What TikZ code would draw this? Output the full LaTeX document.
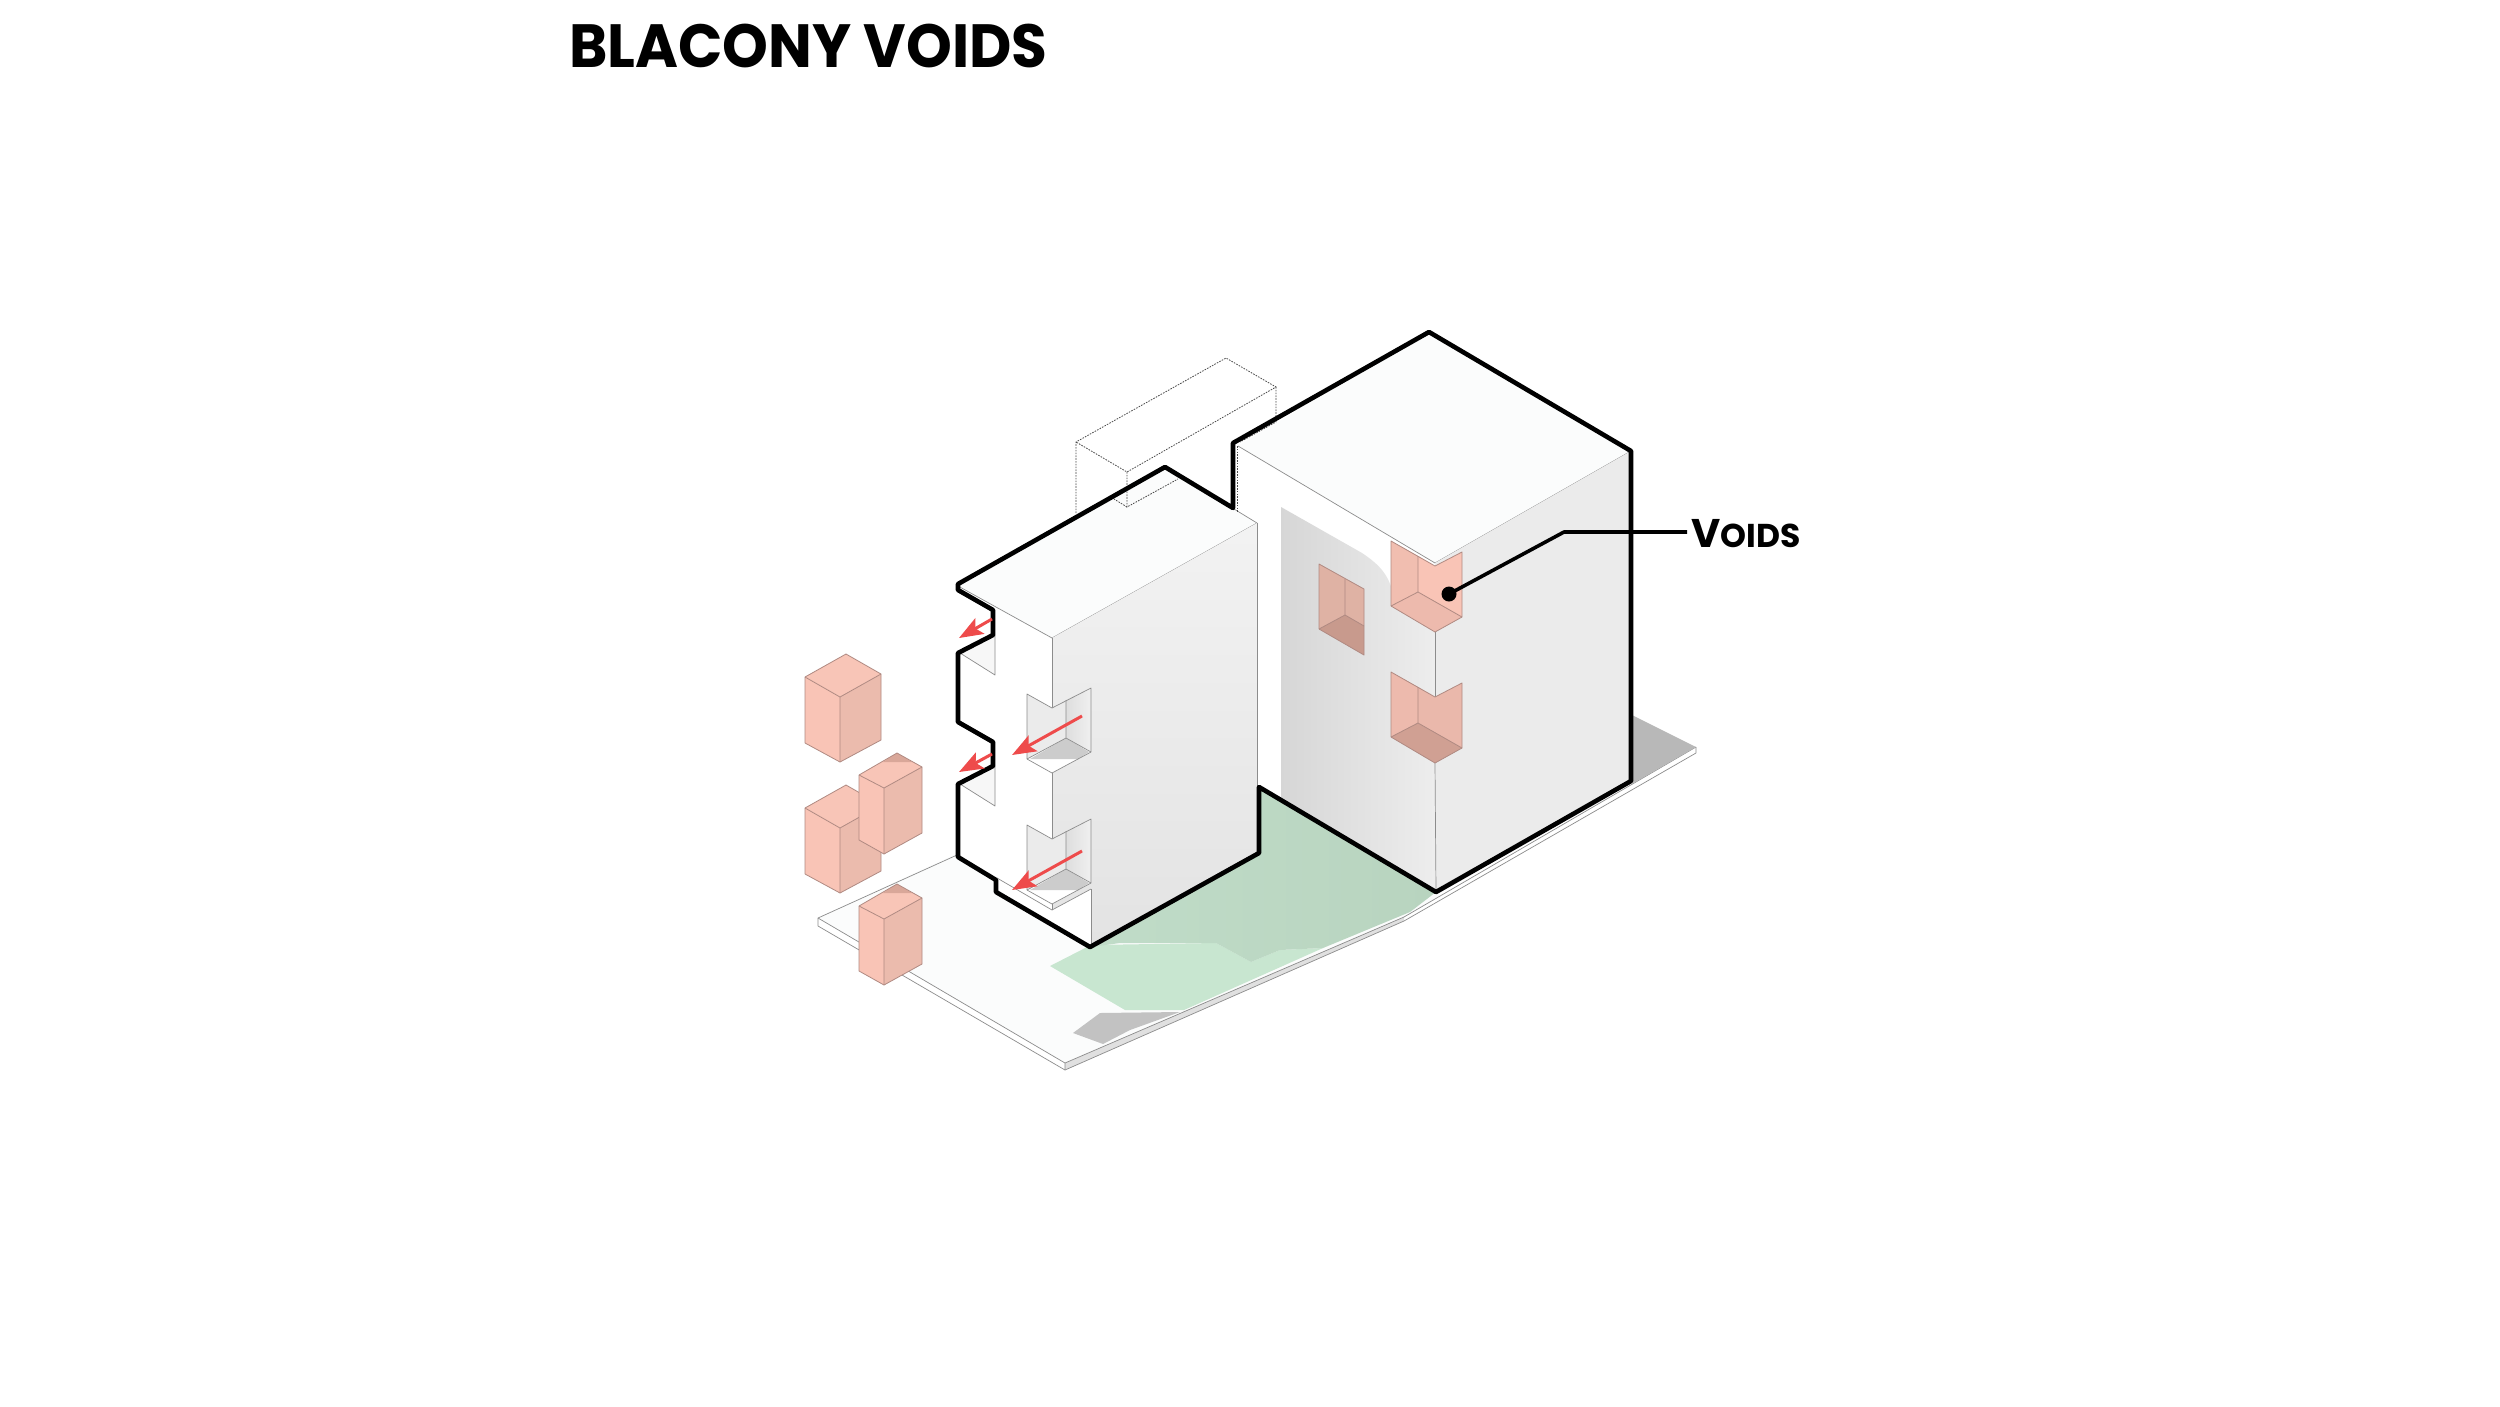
\documentclass[tikz,border=0pt]{standalone}
\usepackage{fontspec}
\setmainfont{Poppins}
\usetikzlibrary{arrows.meta}
\definecolor{arrowred}{HTML}{EE4B4B}
\definecolor{boxline}{HTML}{B08A82}
\definecolor{boxL}{HTML}{F9C4B6}
\definecolor{boxR}{HTML}{EBBBAD}
\definecolor{boxT}{HTML}{F8C5B7}
\definecolor{boxD}{HTML}{D9A799}
\definecolor{greenD}{HTML}{C0DCC8}
\definecolor{greenE}{HTML}{B8D4BF}
\definecolor{greenL}{HTML}{C8E6D0}
\definecolor{sitetop}{HTML}{FBFCFC}
\tikzset{
  thin line/.style={draw=black!45,line width=0.7pt,line join=round},
  outline/.style={draw=black,line width=4.6pt,line join=round},
  redarrow/.style={draw=arrowred,line width=3pt,-{Stealth[length=24pt,width=18pt,inset=5pt]}},
  boxedge/.style={draw=boxline,line width=0.8pt,line join=round},
  dotline/.style={draw=black!70,line width=0.8pt,dash pattern=on 1.6pt off 1.2pt},
}
% apex, right, centre, left, bottom centre, bottom left, bottom right, extra
\newcommand{\ibox}[8]{%
  \fill[boxL] (#4) -- (#3) -- (#5) -- (#6) -- cycle;
  \fill[boxR] (#3) -- (#2) -- (#7) -- (#5) -- cycle;
  \fill[boxT] (#1) -- (#2) -- (#3) -- (#4) -- cycle;
  #8
  \draw[boxedge] (#1) -- (#2) -- (#7) -- (#5) -- (#6) -- (#4) -- cycle;
  \draw[boxedge] (#4) -- (#3) -- (#2) (#3) -- (#5);
}
\newcommand{\greyvoid}[1]{%
  \begin{scope}[shift={(0,#1)}]
  \fill[white] (1027,694) -- (1052,708) -- (1091,688) -- (1091,752) -- (1052,773) -- (1027,759) -- cycle;
  \fill[black!8] (1027,694) -- (1052,708) -- (1066,700) -- (1066,738) -- (1027,759) -- cycle;
  \shade[left color=black!13,right color=black!6] (1066,700) -- (1091,688) -- (1091,752) -- (1066,738) -- cycle;
  \fill[black!20] (1030,759) -- (1066,738) -- (1089,752) -- (1078,759) -- cycle;
  \draw[thin line] (1027,759) -- (1027,694) -- (1052,708) -- (1091,688) -- (1091,752) -- (1052,773) -- (1027,759);
  \draw[thin line] (1066,700) -- (1066,738) (1027,759) -- (1066,738) -- (1091,752);
  \end{scope}
}
\newcommand{\pinkvoid}[4]{%
  \begin{scope}[shift={(0,#1)}]
  \fill[#2] (1391,541) -- (1418,556) -- (1418,592) -- (1391,606) -- cycle;
  \fill[#3] (1418,556) -- (1435,566) -- (1462,552) -- (1462,617) -- (1418,592) -- cycle;
  \fill[#4] (1391,606) -- (1418,592) -- (1462,617) -- (1435,632) -- cycle;
  \draw[boxedge] (1391,606) -- (1391,541) -- (1435,566) -- (1462,552) -- (1462,617) -- (1435,632) -- cycle;
  \draw[boxedge] (1418,556) -- (1418,592) (1391,606) -- (1418,592) -- (1462,617);
  \end{scope}
}
\begin{document}
\begin{tikzpicture}[x=1pt,y=-1pt]
\useasboundingbox (0,0) rectangle (2500,1406);
\fill[white] (0,0) rectangle (2500,1406);

% ---- title
\node[anchor=west,inner sep=0pt,font=\bfseries\fontsize{61}{64}\selectfont] (title) at (569,46) {\scalebox{0.955}[1]{BLACONY VOIDS}};

% ---- site slab
\fill[sitetop] (818,918) -- (958,853) -- (1250,790) -- (1440,896) -- (1404,917) -- (1065,1063) -- cycle;
\fill[black!12] (1065,1063) -- (1065,1070) -- (1404,921) -- (1404,917) -- cycle;
\draw[thin line] (957,855) -- (818,918) -- (818,926) -- (1065,1070) -- (1404,921) -- (1696,753) -- (1696,747);
\draw[thin line] (818,918) -- (1065,1063) -- (1065,1070);
\draw[thin line] (1065,1063) -- (1404,917) -- (1696,747);

% ---- green and shadows
\fill[greenL] (1050,966) -- (1091,945) -- (1216,943) -- (1251,962) -- (1280,950) -- (1323,948) -- (1184,1010) -- (1125,1010) -- cycle;
\shade[left color=greenD,right color=greenE] (1091,947) -- (1259,853) -- (1259,787) -- (1436,892) -- (1410,912) -- (1323,948) -- (1280,950) -- (1251,962) -- (1216,943) -- (1120,943) -- cycle;
\fill[black!24] (1073,1033) -- (1100,1013) -- (1180,1012) -- (1130,1030) -- (1103,1044) -- cycle;
\fill[black!28] (1632,715) -- (1696,747) -- (1632,784) -- cycle;

% ---- outer boxes
\ibox{846,654}{881,674}{840,697}{805,677}{840,762}{805,743}{881,740}{}
\ibox{846,785}{881,805}{840,828}{805,808}{840,893}{805,874}{881,871}{}
\ibox{897,753}{922,767}{884,788}{859,775}{884,854}{859,840}{922,833}{\fill[boxD] (897,753) -- (912,762) -- (883,762) -- cycle;}
\ibox{897,884}{922,898}{884,919}{859,906}{884,985}{859,971}{922,964}{\fill[boxD] (897,884) -- (912,893) -- (883,893) -- cycle;}

% ---- building mass
\fill[white] (958,584) -- (1165,467) -- (1233,508) -- (1233,443) -- (1429,332) -- (1631,451) -- (1631,781) -- (1436,892) -- (1259,787) -- (1259,853) -- (1090,947) -- (996,892) -- (996,880) -- (958,857) -- (958,784) -- (993,766) -- (993,742) -- (958,722) -- (958,653) -- (993,635) -- (993,610) -- (958,590) -- cycle;

% ---- roofs
\fill[sitetop] (958,586) -- (1165,467) -- (1257,523) -- (1052,638) -- cycle;
\fill[sitetop] (1238,446) -- (1429,332) -- (1631,451) -- (1435,563) -- cycle;
\draw[thin line] (958,586) -- (1052,638) -- (1257,523) -- (1165,467);
\draw[thin line] (1238,446) -- (1435,563) -- (1631,451);

% ---- left building faces
\shade[top color=black!5,bottom color=black!11] (1052,638) -- (1257,523) -- (1257,853) -- (1091,947) -- (1091,889) -- (1052,910) -- cycle;
\draw[thin line] (1052,638) -- (1052,708);
\draw[thin line] (1052,773) -- (1052,839);
\draw[thin line] (1257,523) -- (1257,853);
\draw[thin line] (1091,889) -- (1091,947);
\fill[black!3] (960,653) -- (995,635) -- (995,675) -- cycle;
\fill[black!3] (960,784) -- (995,766) -- (995,806) -- cycle;
\draw[thin line] (960,653) -- (995,675) -- (995,635);
\draw[thin line] (960,784) -- (995,806) -- (995,766);
\greyvoid{0}
\greyvoid{131}
\draw[thin line] (997,878) -- (1052,910) -- (1091,889);
\draw[thin line] (1052,904) -- (1052,910);

% ---- right building faces
\shade[left color=black!16,right color=black!7] (1281,507) -- (1362,553) .. controls (1380,565) and (1388,575) .. (1392,590) -- (1435,632) -- (1436,892) -- (1281,800) -- cycle;
\fill[black!8] (1435,563) -- (1631,451) -- (1631,781) -- (1436,892) -- cycle;
\draw[thin line] (1435,632) -- (1435,697);
\draw[thin line] (1435,763) -- (1436,892);
\draw[thin line] (1630,452) -- (1630,781);
\pinkvoid{0}{boxL!97!black}{boxL}{boxL!95!black}
\pinkvoid{131}{boxL!95!black}{boxL!94!black}{boxD!96!black}
% window void
\fill[boxR!95!black] (1319,564) -- (1364,589) -- (1364,626) -- (1345,615) -- (1319,629) -- cycle;
\fill[boxD!92!black] (1319,629) -- (1345,615) -- (1364,626) -- (1364,655) -- cycle;
\draw[boxedge] (1319,564) -- (1364,589) -- (1364,655) -- (1319,629) -- cycle;
\draw[boxedge] (1345,579) -- (1345,615) (1319,629) -- (1345,615) -- (1364,626);

% ---- dotted volume behind
\draw[dotline] (1076,513) -- (1076,442) -- (1226,358) -- (1276,387) -- (1127,472) -- (1076,442);
\draw[dotline] (1127,472) -- (1127,507) -- (1178,479);
\draw[dotline] (1127,507) -- (1114,499);
\draw[dotline] (1276,387) -- (1276,422) -- (1240,442);
\draw[dotline] (1237,446) -- (1237,512);

% ---- heavy outline
\draw[outline] (958,584) -- (1165,467) -- (1233,508) -- (1233,443) -- (1429,332) -- (1631,451) -- (1631,781) -- (1436,892) -- (1259,787) -- (1259,853) -- (1090,947) -- (996,892) -- (996,880) -- (958,857) -- (958,784) -- (993,766) -- (993,742) -- (958,722) -- (958,653) -- (993,635) -- (993,610) -- (958,590) -- cycle;

% ---- red arrows
\coordinate (a1s) at (992,619); \coordinate (a1e) at (959,638);
\coordinate (a2s) at (992,754); \coordinate (a2e) at (959,772);
\coordinate (a3s) at (1082,716); \coordinate (a3e) at (1012,755);
\coordinate (a4s) at (1082,851); \coordinate (a4e) at (1012,890);
\draw[redarrow] (a1s) -- (a1e);
\draw[redarrow] (a2s) -- (a2e);
\draw[redarrow] (a3s) -- (a3e);
\draw[redarrow] (a4s) -- (a4e);

% ---- leader and label
\node[circle,fill=black,inner sep=0pt,minimum size=15pt] (dot) at (1449,594) {};
\node[anchor=west,inner sep=0pt,font=\bfseries] (voidlabel) at (1691,534) {\fontsize{40}{42}\selectfont V\fontsize{33}{42}\selectfont OIDS};
\coordinate (bend) at (1564,532);
\draw[black,line width=3.6pt,line join=round] (dot.center) -- (bend) -- (1687,532);
\end{tikzpicture}
\end{document}
